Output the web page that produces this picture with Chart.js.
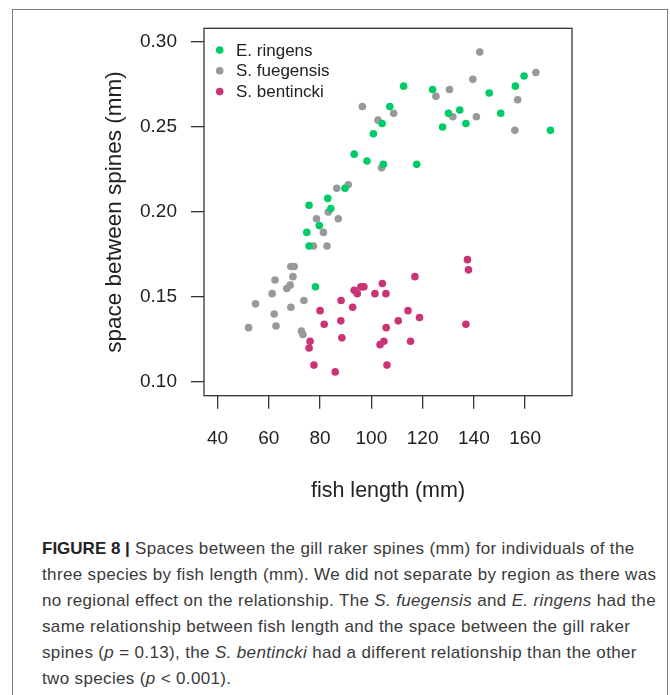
<!DOCTYPE html>
<html>
<head>
<meta charset="utf-8">
<script src="https://cdn.jsdelivr.net/npm/chart.js@4"></script>
<style>
    html, body { margin: 0; padding: 0; background: #fff; }
    #wrap { position: relative; width: 670px; height: 695px; overflow: hidden; }
    #frame { position: absolute; left: 12px; top: 9px; width: 656px; height: 720px; border: 1.5px solid #7a7a7a; box-sizing: border-box; }
    #chart { position: absolute; left: 0; top: 0; }
    #caption {
        position: absolute; left: 42px; top: 536px;
        font-family: "Liberation Sans", Arial, sans-serif; font-size: 17px; line-height: 26px;
        letter-spacing: 0.35px; color: #3a3a3a; white-space: nowrap;
    }
    #caption b { color: #222; letter-spacing: 0; }
</style>
</head>
<body>
<div id="wrap">
    <div id="frame"></div>
    <canvas id="chart" width="670" height="510"></canvas>
    <div id="caption">
        <b>FIGURE 8 |</b> Spaces between the gill raker spines (mm) for individuals of the<br>
        three species by fish length (mm). We did not separate by region as there was<br>
        no regional effect on the relationship. The <i>S. fuegensis</i> and <i>E. ringens</i> had the<br>
        same relationship between fish length and the space between the gill raker<br>
        spines (<i>p</i> = 0.13), the <i>S. bentincki</i> had a different relationship than the other<br>
        two species (<i>p</i> &lt; 0.001).
    </div>
</div>
<script>
/* ── 数据：鱼体长 (mm) 与鳃耙间距 (mm) ── */
const ringensLength = [169.9, 159.6, 156.2, 150.5, 146.0, 136.9, 134.5, 130.1, 127.8, 123.9, 112.6, 107.2, 104.2,
    100.8, 93.3, 98.3, 104.7, 117.7, 89.7, 83.0, 75.7, 84.2, 79.7, 74.8, 75.7, 78.2];
const ringensSpace = [0.248, 0.280, 0.274, 0.258, 0.270, 0.252, 0.260, 0.258, 0.250, 0.272, 0.274, 0.262, 0.252,
    0.246, 0.234, 0.230, 0.228, 0.228, 0.214, 0.208, 0.204, 0.202, 0.192, 0.188, 0.180, 0.156];

const fuegensisLength = [142.3, 164.2, 139.6, 130.5, 125.2, 157.1, 108.7, 131.8, 141.0, 102.6, 156.0, 96.5, 104.0,
    91.0, 86.5, 83.2, 78.6, 87.1, 81.3, 77.4, 82.7, 68.6, 69.9, 69.4, 62.4, 68.3, 67.0, 61.3, 73.7, 54.8, 68.6,
    62.1, 52.1, 62.8, 72.7, 73.3];
const fuegensisSpace = [0.294, 0.282, 0.278, 0.272, 0.268, 0.266, 0.258, 0.256, 0.256, 0.254, 0.248, 0.262, 0.226,
    0.216, 0.214, 0.200, 0.196, 0.196, 0.188, 0.180, 0.180, 0.168, 0.168, 0.162, 0.160, 0.157, 0.155, 0.152, 0.148,
    0.146, 0.144, 0.140, 0.132, 0.133, 0.130, 0.128];

const bentinckiLength = [137.5, 137.9, 117.0, 104.3, 101.4, 105.7, 93.3, 94.5, 95.9, 97.1, 88.2, 92.7, 114.3, 118.8,
    110.5, 88.1, 105.8, 88.5, 104.9, 103.4, 115.3, 106.1, 85.9, 136.9, 80.0, 81.6, 76.1, 75.7, 77.6];
const bentinckiSpace = [0.172, 0.166, 0.162, 0.158, 0.152, 0.152, 0.154, 0.152, 0.156, 0.156, 0.148, 0.144, 0.142,
    0.138, 0.136, 0.136, 0.132, 0.126, 0.124, 0.122, 0.124, 0.110, 0.106, 0.134, 0.142, 0.134, 0.124, 0.120, 0.110];

const speciesNames = ['E. ringens', 'S. fuegensis', 'S. bentincki'];
const speciesColors = ['#00cc66', '#999999', '#cc3377'];

const xTicks = [40, 60, 80, 100, 120, 140, 160];
const yTicks = [0.10, 0.15, 0.20, 0.25, 0.30];

const toPoints = (xs, ys) => xs.map((x, i) => ({ x, y: ys[i] }));
const series = [
    toPoints(ringensLength, ringensSpace),
    toPoints(fuegensisLength, fuegensisSpace),
    toPoints(bentinckiLength, bentinckiSpace),
];

const FONT = '"Liberation Sans", Arial, sans-serif';
const INK = '#333';

// R 风格的外框 + 图内图例
const boxAndLegend = {
    id: 'boxAndLegend',
    afterDraw(chart) {
        const { ctx, chartArea: a } = chart;
        ctx.save();
        ctx.strokeStyle = INK;
        ctx.lineWidth = 1.3;
        ctx.strokeRect(a.left, a.top, a.right - a.left, a.bottom - a.top);

        ctx.font = '17px ' + FONT;
        ctx.textBaseline = 'middle';
        chart.data.datasets.forEach((ds, i) => {
            const y = a.top + 21.7 + i * 20.8;
            ctx.fillStyle = ds.backgroundColor;
            ctx.beginPath();
            ctx.arc(a.left + 15.7, y, 3.8, 0, Math.PI * 2);
            ctx.fill();
            ctx.fillStyle = '#222';
            ctx.fillText(ds.label, a.left + 32, y + 1);
        });
        ctx.restore();
    },
};

const axisGrid = { display: true, drawOnChartArea: false, drawTicks: true, tickLength: 13, tickColor: INK, lineWidth: 1.3 };

new Chart(document.getElementById('chart'), {
    type: 'scatter',
    data: {
        datasets: series.map((data, i) => ({
            label: speciesNames[i],
            data,
            backgroundColor: speciesColors[i],
            borderWidth: 0,
            pointRadius: 3.8,
            pointHoverRadius: 3.8,
        })),
    },
    options: {
        responsive: false,
        devicePixelRatio: 1,
        animation: false,
        layout: { padding: { top: 28.3, right: 98, bottom: 0, left: 0 } },
        plugins: { legend: { display: false }, tooltip: { enabled: false } },
        scales: {
            x: {
                type: 'linear', min: 34.7, max: 178.3,
                afterBuildTicks: s => { s.ticks = xTicks.map(v => ({ value: v })); },
                afterFit: s => { s.height = 114.3; },
                grid: axisGrid,
                border: { display: false },
                ticks: { color: '#222', font: { family: FONT, size: 19 }, padding: 19, maxRotation: 0 },
                title: { display: true, text: 'fish length (mm)', color: '#222', font: { family: FONT, size: 21.5 }, padding: { top: 0, bottom: 6 } },
            },
            y: {
                type: 'linear', min: 0.092, max: 0.308,
                afterBuildTicks: s => { s.ticks = yTicks.map(v => ({ value: v })); },
                afterFit: s => { s.width = 204; },
                grid: axisGrid,
                border: { display: false },
                ticks: { color: '#222', font: { family: FONT, size: 19 }, padding: 14, callback: v => v.toFixed(2) },
                title: { display: true, text: 'space between spines (mm)', color: '#222', font: { family: FONT, size: 22.5 }, padding: { top: 101, bottom: 0 } },
            },
        },
    },
    plugins: [boxAndLegend],
});
</script>
</body>
</html>
